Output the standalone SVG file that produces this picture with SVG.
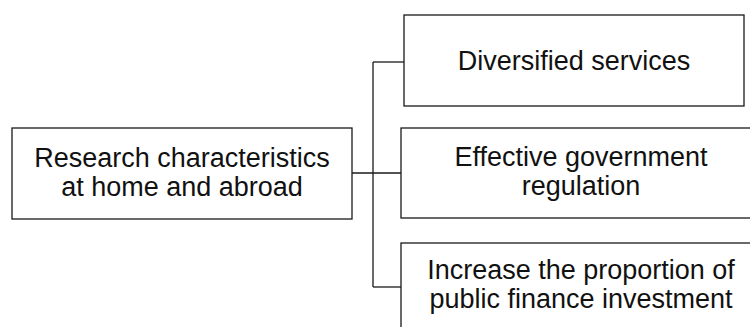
<svg xmlns="http://www.w3.org/2000/svg" width="750" height="327" viewBox="0 0 750 327">
<style>
.box{fill:#fff;stroke:#1a1a1a;stroke-width:1.3}
.t{font-family:"Liberation Sans",Arial,sans-serif;font-size:27px;fill:#111;text-anchor:middle}
.c{fill:none;stroke:#1a1a1a;stroke-width:1.3}
</style>
<rect width="750" height="327" fill="#fff"/>
<g id="connectors">
<path class="c" d="M352 173H401"/>
<path class="c" d="M373 62V287"/>
<path class="c" d="M373 62H404"/>
<path class="c" d="M373 287H401"/>
</g>
<g id="root">
<rect class="box" x="12" y="128" width="340" height="91"/>
<text class="t" x="182" y="167">Research characteristics</text>
<text class="t" x="182" y="195.5">at home and abroad</text>
</g>
<g id="n1">
<rect class="box" x="404" y="15" width="340" height="91"/>
<text class="t" x="574" y="69.5">Diversified services</text>
</g>
<g id="n2">
<rect class="box" x="401" y="128" width="360" height="90"/>
<text class="t" x="581" y="165.5">Effective government</text>
<text class="t" x="581" y="194.5">regulation</text>
</g>
<g id="n3">
<rect class="box" x="401" y="243" width="360" height="91"/>
<text class="t" x="581" y="278.5">Increase the proportion of</text>
<text class="t" x="581" y="307.5">public finance investment</text>
</g>
</svg>
